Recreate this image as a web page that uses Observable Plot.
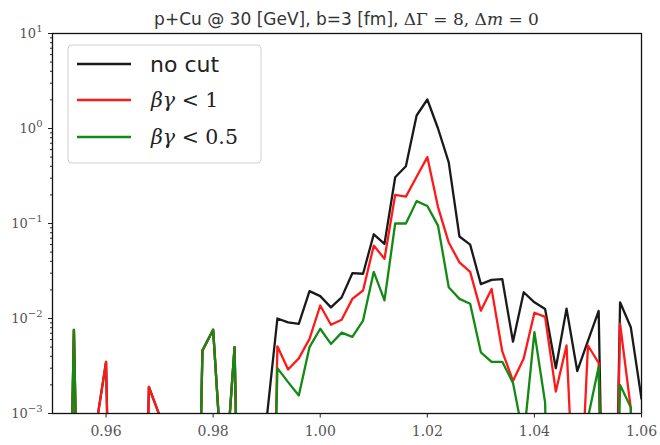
<!DOCTYPE html>
<html><head><meta charset="utf-8">
<script src="https://cdn.jsdelivr.net/npm/d3@7"></script>
<script src="https://cdn.jsdelivr.net/npm/@observablehq/plot@0.6"></script>
<style>body{margin:0;background:#fff}</style>
</head><body><div id="chart"></div>
<script>
// bin centres (invariant mass)
const xs = [0.950,0.952,0.954,0.956,0.958,0.960,0.962,0.964,0.966,0.968,
  0.970,0.972,0.974,0.976,0.978,0.980,0.982,0.984,0.986,0.988,
  0.990,0.992,0.994,0.996,0.998,1.000,1.002,1.004,1.006,1.008,
  1.010,1.012,1.014,1.016,1.018,1.020,1.022,1.024,1.026,1.028,
  1.030,1.032,1.034,1.036,1.038,1.040,1.042,1.044,1.046,1.048,
  1.050,1.052,1.054,1.056,1.058,1.060];
const noCut = [0,0,0.0076,0,0.00065,0.0035,0,0,0,0.0019,
  0.00095,0,0,0,0.0046,0.0076,0.00013,0.005,0,0,
  0.00088,0.010,0.0091,0.0088,0.0194,0.0172,0.0131,0.0167,0.030,0.0296,
  0.077,0.061,0.307,0.40,1.37,2.02,1.0,0.44,0.073,0.060,
  0.023,0.0255,0.026,0.0057,0.0189,0.0148,0.0126,0.0030,0.0127,0.0028,
  0.0058,0.0120,0,0.0148,0.0081,0.00143];
const cut1 = [0,0,0.0076,0,0.00065,0.0035,0,0,0,0.0019,
  0.00095,0,0,0,0.0046,0.0076,0.00013,0.005,0,0,
  0,0.0051,0.0029,0.0038,0.0061,0.0137,0.0086,0.0097,0.0161,0.0197,
  0.0586,0.0425,0.20,0.192,0.31,0.50,0.149,0.063,0.039,0.031,
  0.0121,0.0205,0.0045,0.0022,0.0038,0.0115,0.0104,0.0017,0.0052,0.00002,
  0.0052,0.0034,0,0.0088,0.00113,0];
const cut05 = [0,0,0.0076,0,0,0,0,0,0,0,
  0,0,0,0,0.0046,0.0076,0.00013,0.005,0,0,
  0,0.0030,0.00214,0.00155,0.0050,0.0078,0.0054,0.0071,0.0064,0.0095,
  0.031,0.0155,0.100,0.100,0.172,0.153,0.095,0.0213,0.0161,0.0143,
  0.0044,0.0035,0.0035,0.0021,0.00055,0.0072,0.0013,0,0,0,
  0.0009,0.0031,0,0.0020,0.00116,0];

const seriesNames = ["no cut", "bg<1", "bg<0.5"];
const seriesColors = ["#1a1a1a", "#ff1a1a", "#138a13"];
const xTicks = [0.96, 0.98, 1.00, 1.02, 1.04, 1.06];
const yMajor = [1e-3, 1e-2, 1e-1, 1, 10];
const yMajorExp = ["−3", "−2", "−1", "0", "1"];

// log scale: non-positive bins are clipped to a tiny value (like matplotlib)
const floorVal = 1e-8;
const rows = [];
[noCut, cut1, cut05].forEach((arr, k) => arr.forEach((v, i) =>
  rows.push({x: xs[i], y: v > 0 ? v : floorVal, s: seriesNames[k]})));

const yMinor = [];
for (let e = -3; e < 1; e++) for (let m = 2; m <= 9; m++) yMinor.push(m * Math.pow(10, e));

const serif = "DejaVu Serif";
const plot = Plot.plot({
  width: 660, height: 445,
  marginLeft: 52, marginRight: 19, marginTop: 33, marginBottom: 32,
  x: {domain: [0.95, 1.06], label: null},
  y: {type: "log", domain: [1e-3, 10], label: null},
  color: {domain: seriesNames, range: seriesColors},
  style: {background: "white", overflow: "visible"},
  marks: [
    Plot.lineY(rows, {x: "x", y: "y", z: "s", stroke: "s", strokeWidth: 2.3, clip: true}),
    Plot.frame({stroke: "#111", strokeWidth: 1.3}),
    Plot.axisX(xTicks, {tickSize: 4.5, tickPadding: 8.5, tickFormat: d => d.toFixed(2),
      fontFamily: serif, fontSize: 14, fill: "#555", stroke: "#222"}),
    Plot.axisY(yMajor, {tickSize: 4, tickPadding: 6, tickFormat: d => "10|" + yMajorExp[yMajor.indexOf(d)],
      fontFamily: serif, fontSize: 13, fill: "#555", stroke: "#222"}),
    Plot.axisY(yMinor, {tickSize: 2, tickFormat: () => "", stroke: "#222"})
  ]
});
document.getElementById("chart").appendChild(plot);

const svg = d3.select(plot);
// superscripts for the log tick labels
svg.selectAll("text").filter(function() { return this.textContent.includes("|"); })
  .each(function() {
    const [base, exp] = this.textContent.split("|");
    const el = d3.select(this);
    el.text("");
    el.append("tspan").text(base);
    el.append("tspan").attr("font-size", 10).attr("dy", "-0.55em").text(exp);
  });

// title
const t = svg.append("text").attr("x", 346.5).attr("y", 25).attr("text-anchor", "middle")
  .attr("fill", "#333").attr("font-size", 17);
t.append("tspan").attr("font-family", "DejaVu Sans").text("p+Cu @ 30 [GeV], b=3 [fm], ");
t.append("tspan").attr("font-family", serif).text("ΔΓ = 8, Δ");
t.append("tspan").attr("font-family", serif).attr("font-style", "italic").text("m");
t.append("tspan").attr("font-family", serif).text(" = 0");

// legend
const lg = svg.append("g").attr("text-anchor", "start");
lg.append("rect").attr("x", 68).attr("y", 45).attr("width", 193).attr("height", 118)
  .attr("rx", 4).attr("fill", "white").attr("fill-opacity", 0.85).attr("stroke", "#d0d0d0");
const ly = [64, 100, 137];
seriesColors.forEach((c, i) => {
  lg.append("line").attr("x1", 77).attr("x2", 131).attr("y1", ly[i]).attr("y2", ly[i])
    .attr("stroke", c).attr("stroke-width", 2.4);
});
lg.append("text").attr("x", 150).attr("y", ly[0]).attr("dy", "0.35em").attr("text-anchor", "start")
  .attr("font-family", "DejaVu Sans").attr("font-size", 22).attr("fill", "#222").text("no cut");
[["1", ly[1]], ["0.5", ly[2]]].forEach(([v, y]) => {
  const tx = lg.append("text").attr("x", 151).attr("y", y).attr("dy", "0.35em").attr("text-anchor", "start")
    .attr("font-family", serif).attr("font-size", 20.5).attr("fill", "#222");
  tx.append("tspan").attr("font-style", "italic").text("βγ");
  tx.append("tspan").text(" < " + v);
});
</script>
</body></html>
